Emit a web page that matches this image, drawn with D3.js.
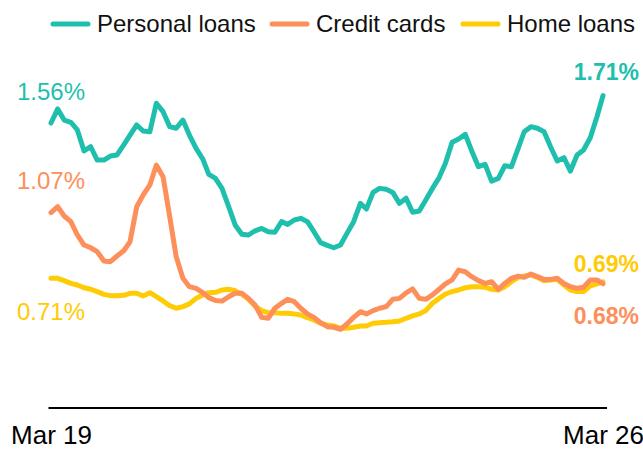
<!DOCTYPE html>
<html>
<head>
<meta charset="utf-8">
<script src="https://cdn.jsdelivr.net/npm/d3@7"></script>
<style>
html,body{margin:0;padding:0;background:#fff;}
svg{display:block;font-family:"Liberation Sans",Arial,Helvetica,sans-serif;}
</style>
</head>
<body>
<svg id="chart" width="643" height="450"></svg>
<script>
const seriesNames = ["Personal loans", "Credit cards", "Home loans"];
const seriesColors = ["#1fbfae", "#fd8f5b", "#ffcb05"];
const tickLabels = ["Mar 19", "Mar 26"];
const startMonth = new Date(2019, 2, 1);
const endMonth = new Date(2026, 2, 1);

const personal = [1.56,1.637,1.576,1.564,1.522,1.407,1.430,1.357,1.357,1.379,1.385,1.440,1.494,1.549,1.516,1.512,1.668,1.622,1.540,1.531,1.576,1.494,1.421,1.363,1.279,1.257,1.202,1.102,1.002,0.951,0.947,0.970,0.983,0.965,0.962,1.020,1.005,1.029,1.038,1.020,0.965,0.905,0.890,0.877,0.892,0.956,1.020,1.120,1.089,1.180,1.202,1.197,1.180,1.120,1.148,1.071,1.078,1.138,1.202,1.261,1.339,1.454,1.472,1.498,1.407,1.321,1.334,1.242,1.257,1.326,1.321,1.421,1.512,1.540,1.531,1.512,1.430,1.352,1.370,1.297,1.385,1.412,1.479,1.594,1.71];
const credit = [1.07,1.102,1.051,1.020,0.947,0.892,0.877,0.856,0.805,0.801,0.832,0.861,0.910,1.102,1.166,1.221,1.330,1.266,1.047,0.828,0.710,0.664,0.655,0.632,0.604,0.588,0.585,0.609,0.628,0.628,0.600,0.564,0.496,0.491,0.546,0.573,0.595,0.582,0.546,0.515,0.496,0.467,0.445,0.442,0.431,0.460,0.496,0.527,0.515,0.533,0.546,0.555,0.595,0.600,0.630,0.652,0.600,0.595,0.619,0.650,0.679,0.701,0.755,0.746,0.719,0.697,0.682,0.691,0.650,0.682,0.710,0.722,0.715,0.733,0.719,0.704,0.704,0.710,0.682,0.664,0.655,0.661,0.701,0.701,0.68];
const home = [0.71,0.710,0.697,0.682,0.673,0.658,0.650,0.637,0.622,0.615,0.615,0.617,0.628,0.628,0.613,0.631,0.609,0.586,0.560,0.546,0.555,0.570,0.600,0.619,0.631,0.633,0.646,0.650,0.642,0.622,0.595,0.558,0.533,0.522,0.522,0.518,0.518,0.515,0.509,0.494,0.482,0.464,0.454,0.449,0.436,0.436,0.442,0.449,0.449,0.464,0.467,0.469,0.472,0.476,0.491,0.504,0.515,0.533,0.573,0.600,0.624,0.637,0.646,0.658,0.664,0.664,0.661,0.650,0.646,0.664,0.691,0.715,0.722,0.728,0.715,0.697,0.701,0.704,0.673,0.646,0.637,0.637,0.668,0.679,0.69];

const allSeries = [personal, credit, home];
const months = d3.timeMonth.range(startMonth, d3.timeMonth.offset(endMonth, 1));

const svg = d3.select("#chart");
const x = d3.scaleTime().domain([startMonth, endMonth]).range([51, 603]);
const y = d3.scaleLinear().domain([0, 2]).range([408, 42.6]);

// axis
const axis = d3.axisBottom(x)
  .tickValues([startMonth, endMonth])
  .tickFormat((d, i) => tickLabels[i])
  .tickSize(0)
  .tickPadding(18);
const gAxis = svg.append("g").attr("transform", `translate(0,${y(0)})`).call(axis);
gAxis.select(".domain").remove();
gAxis.append("line")
  .attr("x1", x(startMonth) - 2.5).attr("x2", x(endMonth) + 4)
  .attr("stroke", "#000").attr("stroke-width", 2);
gAxis.selectAll(".tick text")
  .attr("font-size", 26).attr("fill", "#000")
  .attr("font-family", "'Liberation Sans', Arial, sans-serif");

// lines (draw home first, then credit, then personal)
const line = d3.line().x((d, i) => x(months[i])).y(d => y(d)).curve(d3.curveLinear);
[2, 1, 0].forEach(k => {
  svg.append("path")
    .datum(allSeries[k])
    .attr("d", line)
    .attr("fill", "none")
    .attr("stroke", seriesColors[k])
    .attr("stroke-width", 5)
    .attr("stroke-linejoin", "round")
    .attr("stroke-linecap", "round");
});

// start labels (left, normal)
const fmt = v => v.toFixed(2) + "%";
const startLabelY = [100, 189, 320];
allSeries.forEach((s, k) => {
  svg.append("text")
    .attr("x", 17).attr("y", startLabelY[k])
    .attr("font-size", 24)
    .attr("fill", seriesColors[k])
    .text(fmt(s[0]));
});
// end labels (right, bold)
const endLabelY = [80, 324, 272];
allSeries.forEach((s, k) => {
  svg.append("text")
    .attr("x", 639).attr("y", endLabelY[k])
    .attr("text-anchor", "end")
    .attr("font-size", 23)
    .attr("font-weight", "bold")
    .attr("fill", seriesColors[k])
    .text(fmt(s[s.length - 1]));
});

// legend
const legendX = [53, 272, 463];
const legend = svg.append("g");
seriesNames.forEach((name, k) => {
  legend.append("line")
    .attr("x1", legendX[k]).attr("x2", legendX[k] + 35)
    .attr("y1", 24).attr("y2", 24)
    .attr("stroke", seriesColors[k]).attr("stroke-width", 5)
    .attr("stroke-linecap", "round");
  legend.append("text")
    .attr("x", legendX[k] + 44).attr("y", 32)
    .attr("font-size", 24).attr("fill", "#111")
    .text(name);
});
</script>
</body>
</html>
